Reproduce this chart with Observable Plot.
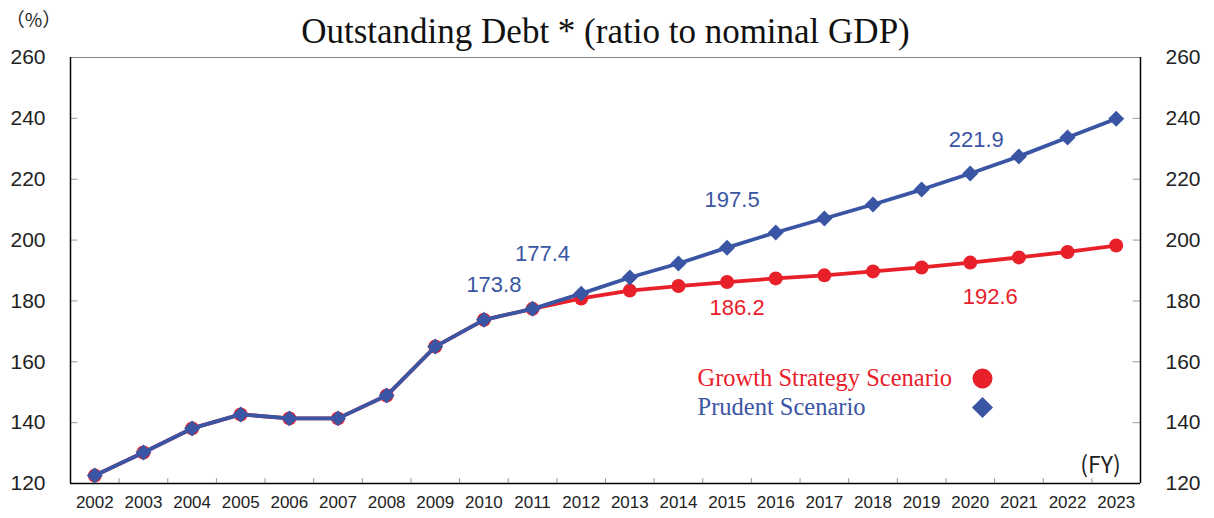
<!DOCTYPE html>
<html>
<head>
<meta charset="utf-8">
<script src="https://cdn.jsdelivr.net/npm/d3@7"></script>
<script src="https://cdn.jsdelivr.net/npm/@observablehq/plot@0.6"></script>
<style>
  html, body { margin: 0; padding: 0; background: #fff; }
  #chart svg { display: block; }
</style>
</head>
<body>
<div id="chart"></div>
<script>
// ---- data ----
const years = [2002,2003,2004,2005,2006,2007,2008,2009,2010,2011,2012,2013,2014,2015,2016,2017,2018,2019,2020,2021,2022,2023];
const growthValues  = [122.6,130.2,138.1,142.7,141.4,141.4,148.9,165.0,173.8,177.4,180.8,183.4,184.9,186.2,187.4,188.4,189.7,191.0,192.6,194.3,196.1,198.2];
const prudentValues = [122.6,130.2,138.1,142.7,141.4,141.4,148.9,165.0,173.8,177.4,182.4,187.7,192.3,197.5,202.5,207.1,211.7,216.6,221.9,227.5,233.7,239.9];
const yTicks = [120,140,160,180,200,220,240,260];
const titleText = "Outstanding Debt * (ratio to nominal GDP)";
const seriesNames = ["Growth Strategy Scenario", "Prudent Scenario"];
const annotatedYearsPrudent = [2010, 2011, 2015, 2020];
const annotatedYearsGrowth = [2015, 2020];

// ---- build ----
const red = "#e8202a", blue = "#3a55a4";
const growth = years.map((year, i) => ({year, v: growthValues[i]}));
const prudent = years.map((year, i) => ({year, v: prudentValues[i]}));
const xMin = years[0] - 0.5, xMax = years[years.length - 1] + 0.5;
const bounds = years.slice(0, -1).map(y => y + 0.5);

const blueOffsets = {2010: [10, -35], 2011: [10, -55], 2015: [5, -48], 2020: [6, -33]};
const redOffsets = {2015: [10, 26], 2020: [20, 34]};
const blueAnno = prudent.filter(d => annotatedYearsPrudent.includes(d.year));
const redAnno = growth.filter(d => annotatedYearsGrowth.includes(d.year));

const numFont = "'Liberation Sans', Arial, sans-serif";
const serif = "'Liberation Serif', 'Times New Roman', serif";
const cjk = "'Noto Sans CJK JP', 'Noto Sans', sans-serif";

const annoMarks = [];
for (const d of blueAnno) {
  annoMarks.push(Plot.text([d], {x: "year", y: "v", text: d => d.v.toFixed(1), dx: blueOffsets[d.year][0], dy: blueOffsets[d.year][1], fill: blue, fontSize: 22, fontFamily: numFont}));
}
for (const d of redAnno) {
  annoMarks.push(Plot.text([d], {x: "year", y: "v", text: d => d.v.toFixed(1), dx: redOffsets[d.year][0], dy: redOffsets[d.year][1], fill: red, fontSize: 22, fontFamily: numFont}));
}

const chart = Plot.plot({
  width: 1214,
  height: 518,
  marginLeft: 70,
  marginRight: 74,
  marginTop: 57,
  marginBottom: 35,
  style: {fontFamily: numFont, background: "#fff", overflow: "visible"},
  x: {type: "linear", domain: [xMin, xMax], label: null},
  y: {domain: [120, 260], label: null},
  marks: [
    // inward ticks
    Plot.ruleY(yTicks, {x1: xMin, x2: xMin + 0.15, stroke: "#999", strokeWidth: 1}),
    Plot.ruleY(yTicks, {x1: xMax - 0.15, x2: xMax, stroke: "#999", strokeWidth: 1}),
    Plot.ruleX(bounds, {y1: 120, y2: 121.6, stroke: "#999", strokeWidth: 1}),
    // frame
    Plot.ruleY([260], {stroke: "#888", strokeWidth: 1}),
    Plot.ruleY([120], {stroke: "#000", strokeWidth: 1.5}),
    Plot.ruleX([xMin, xMax], {stroke: "#000", strokeWidth: 1.5}),
    // axes
    Plot.axisY({anchor: "left", ticks: yTicks, tickSize: 0, tickPadding: 25, fontSize: 21, fill: "#222", label: null}),
    Plot.axisY({anchor: "right", ticks: yTicks, tickSize: 0, tickPadding: 25, fontSize: 21, fill: "#222", label: null}),
    Plot.axisX({ticks: years, tickSize: 0, tickPadding: 12, tickFormat: d => String(d), fontSize: 17, fill: "#222", label: null, fontFamily: "'Liberation Sans Narrow', 'Liberation Sans', sans-serif"}),
    // series
    Plot.line(growth, {x: "year", y: "v", stroke: red, strokeWidth: 3.8}),
    Plot.dot(growth, {x: "year", y: "v", r: 7, fill: red, stroke: "none"}),
    Plot.line(prudent, {x: "year", y: "v", stroke: blue, strokeWidth: 3.8}),
    Plot.dot(prudent, {x: "year", y: "v", r: 7.2, symbol: "diamond2", fill: blue, stroke: "none"}),
    ...annoMarks,
    // title and units
    Plot.text([titleText], {frameAnchor: "top", lineAnchor: "middle", textAnchor: "middle", dy: -26, text: d => d, fontSize: 35, fontFamily: serif, fill: "#111"}),
    Plot.text(["（%）"], {frameAnchor: "top-left", lineAnchor: "middle", textAnchor: "middle", dx: -37, dy: -37, text: d => d, fontSize: 19, fontFamily: cjk, fill: "#222"}),
    Plot.text(["(FY)"], {frameAnchor: "bottom-right", lineAnchor: "middle", textAnchor: "middle", dx: -40, dy: -18, text: d => d, fontSize: 23, fontFamily: cjk, fill: "#222"}),
    // legend
    Plot.text([seriesNames[0]], {frameAnchor: "top-left", lineAnchor: "middle", textAnchor: "start", dx: 627, dy: 321, text: d => d, fontSize: 24.5, fontFamily: serif, fill: red}),
    Plot.text([seriesNames[1]], {frameAnchor: "top-left", lineAnchor: "middle", textAnchor: "start", dx: 627, dy: 350, text: d => d, fontSize: 24.5, fontFamily: serif, fill: blue}),
    Plot.dot([seriesNames[0]], {frameAnchor: "top-left", dx: 912, dy: 321, r: 10, fill: red, stroke: "none"}),
    Plot.dot([seriesNames[1]], {frameAnchor: "top-left", dx: 912, dy: 350, r: 9.5, symbol: "diamond2", fill: blue, stroke: "none"})
  ]
});
document.getElementById("chart").appendChild(chart);
</script>
</body>
</html>
